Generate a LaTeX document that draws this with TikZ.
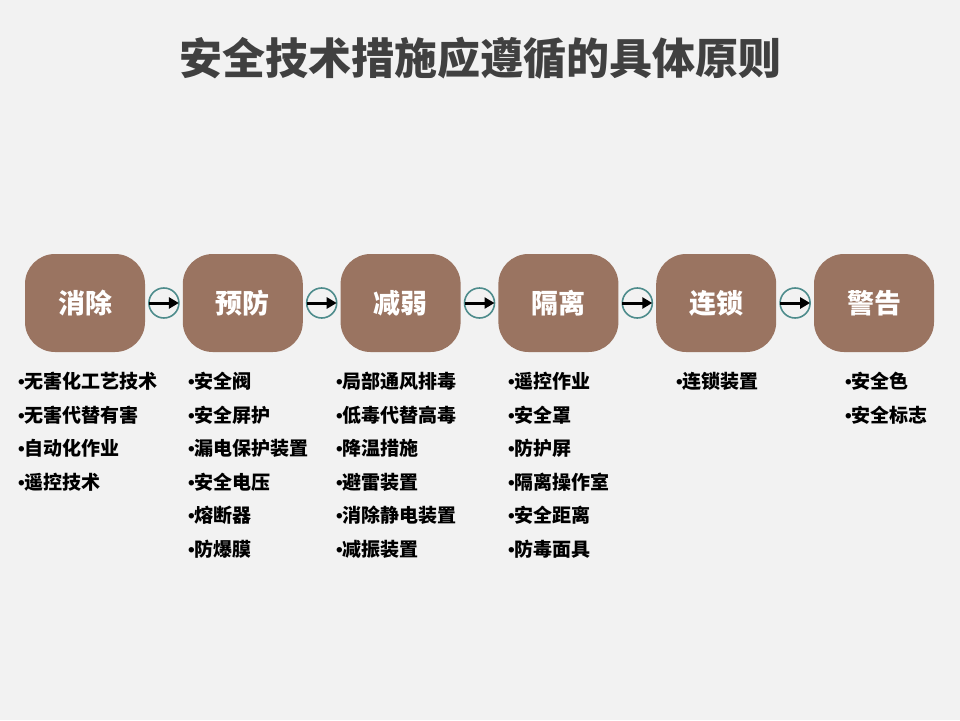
\documentclass[tikz,border=0pt]{standalone}
\usepackage{fontspec}
\setmainfont{Noto Sans CJK SC}
\newfontfamily\puces{Liberation Sans}
\usetikzlibrary{arrows.meta,positioning}
\definecolor{fond}{HTML}{F2F2F2}
\definecolor{brun}{HTML}{9A7461}
\definecolor{anneau}{HTML}{4E8C8C}
\definecolor{titre}{HTML}{404040}
\newcommand\pu{{\puces\bfseries •}}
\tikzset{
  etape/.style={rectangle, rounded corners=30pt, fill=brun, text=white,
                font=\fontsize{27}{30}\selectfont\bfseries, minimum width=120pt, minimum height=98pt},
  rond/.style={circle, draw=anneau, line width=1.6pt, fill=fond, minimum size=30pt,
               inner sep=0pt, outer sep=0pt},
  liste/.style={anchor=north west, align=left, inner sep=0pt,
                font=\fontsize{19}{33.5}\selectfont\bfseries},
  arr/.style={-{Triangle[length=10pt,width=11pt]}, line width=3pt, draw=black},
}

\begin{document}
\begin{tikzpicture}[x=1pt, y=-1pt, node distance=3.7pt]
  \fill[fond] (0,0) rectangle (960,720);
  \useasboundingbox (0,0) rectangle (960,720);
  \node[font=\fontsize{43}{46}\selectfont\bfseries, text=titre] (titre) at (480,58) {安全技术措施应遵循的具体原则};
  % les six étapes
  \node[etape] (xiao) at (85,303) {消除};
  \node[rond, right=of xiao] (c1) {};
  \node[etape, right=of c1] (yu) {预防};
  \node[rond, right=of yu] (c2) {};
  \node[etape, right=of c2] (jian) {减弱};
  \node[rond, right=of jian] (c3) {};
  \node[etape, right=of c3] (ge) {隔离};
  \node[rond, right=of ge] (c4) {};
  \node[etape, right=of c4] (lian) {连锁};
  \node[rond, right=of lian] (c5) {};
  \node[etape, right=of c5] (jing) {警告};
  \foreach \c in {c1,c2,c3,c4,c5} \draw[arr] (\c.west) -- (\c.east);
  % les listes
  \node[liste] (l1) at (18,372) {\pu{}无害化工艺技术\\\pu{}无害代替有害\\\pu{}自动化作业\\\pu{}遥控技术};
  \node[liste] (l2) at (188,372) {\pu{}安全阀\\\pu{}安全屏护\\\pu{}漏电保护装置\\\pu{}安全电压\\\pu{}熔断器\\\pu{}防爆膜};
  \node[liste] (l3) at (336,372) {\pu{}局部通风排毒\\\pu{}低毒代替高毒\\\pu{}降温措施\\\pu{}避雷装置\\\pu{}消除静电装置\\\pu{}减振装置};
  \node[liste] (l4) at (508,372) {\pu{}遥控作业\\\pu{}安全罩\\\pu{}防护屏\\\pu{}隔离操作室\\\pu{}安全距离\\\pu{}防毒面具};
  \node[liste] (l5) at (676,372) {\pu{}连锁装置};
  \node[liste] (l6) at (845,372) {\pu{}安全色\\\pu{}安全标志};
\end{tikzpicture}
\end{document}
